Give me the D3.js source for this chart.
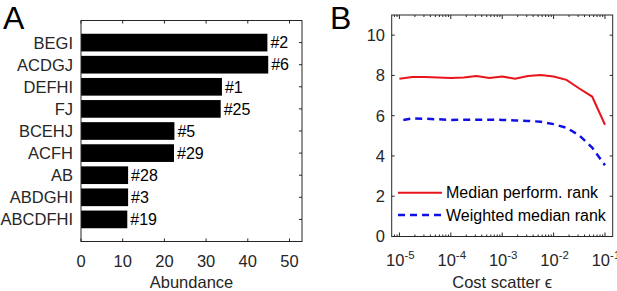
<!DOCTYPE html>
<html>
<head>
<meta charset="utf-8">
<script src="https://cdn.jsdelivr.net/npm/d3@7"></script>
<style>
  body { margin: 0; background: #fff; }
  text { font-family: Arial, "Liberation Sans", sans-serif; fill: #262626; }
</style>
</head>
<body>
<div id="chart"></div>
<script>
// panel A data
const groups = ["BEGI", "ACDGJ", "DEFHI", "FJ", "BCEHJ", "ACFH", "AB", "ABDGHI", "ABCDFHI"];
const abundance = [44.7, 44.9, 33.8, 33.5, 22.4, 22.3, 11.3, 11.3, 11.1];
const ranks = ["#2", "#6", "#1", "#25", "#5", "#29", "#28", "#3", "#19"];
const abundanceTicks = [0, 10, 20, 30, 40, 50];

// panel B data
const scatter = [1e-5, 1.78e-5, 3.16e-5, 5.62e-5, 1e-4, 1.78e-4, 3.16e-4, 5.62e-4,
    1e-3, 1.78e-3, 3.16e-3, 5.62e-3, 1e-2, 1.78e-2, 3.16e-2, 5.62e-2, 1e-1];
const medianRank = [7.83, 7.92, 7.92, 7.90, 7.87, 7.90, 7.97, 7.87, 7.95,
    7.83, 7.97, 8.02, 7.95, 7.78, 7.35, 6.95, 5.55];
const weightedRank = [5.75, 5.86, 5.85, 5.82, 5.79, 5.80, 5.80, 5.80, 5.79,
    5.76, 5.74, 5.70, 5.58, 5.40, 5.02, 4.42, 3.54];
const rankTicks = [0, 2, 4, 6, 8, 10];
const scatterTicks = [1e-5, 1e-4, 1e-3, 1e-2, 1e-1];
const legendNames = ["Median perform. rank", "Weighted median rank"];

const axisColor = "#262626";
const tickLen = 3;

const svg = d3.select("#chart").append("svg")
    .attr("width", 617)
    .attr("height", 291);

// ---------- panel A ----------
const boxA = {left: 81, right: 302, top: 20.5, bottom: 241.5};

const xA = d3.scaleLinear()
    .domain([0, 53])
    .range([boxA.left, boxA.right]);

const yA = d3.scaleLinear()
    .domain([0, 10])
    .range([boxA.bottom, boxA.top]);

const gA = svg.append("g");

// bars (first group at the top)
const barH = yA(0) - yA(0.8);
gA.selectAll(".bar")
    .data(groups)
    .enter().append("rect")
    .attr("class", "bar")
    .attr("x", xA(0))
    .attr("y", (d, i) => yA(9 - i) - barH / 2)
    .attr("width", (d, i) => xA(abundance[i]) - xA(0))
    .attr("height", barH)
    .attr("fill", "#000");

gA.selectAll(".rank")
    .data(ranks)
    .enter().append("text")
    .attr("class", "rank")
    .attr("x", (d, i) => xA(abundance[i]) + 3)
    .attr("y", (d, i) => yA(9 - i))
    .attr("dy", "0.36em")
    .attr("font-size", 16)
    .style("fill", "#000")
    .text(d => d);

// box
gA.append("rect")
    .attr("x", boxA.left).attr("y", boxA.top)
    .attr("width", boxA.right - boxA.left)
    .attr("height", boxA.bottom - boxA.top)
    .attr("fill", "none")
    .attr("stroke", axisColor)
    .attr("stroke-width", 1);

// x ticks, bottom and top, pointing in
abundanceTicks.forEach(function (t) {
    gA.append("line")
        .attr("x1", xA(t)).attr("x2", xA(t))
        .attr("y1", boxA.bottom).attr("y2", boxA.bottom - tickLen)
        .attr("stroke", axisColor);
    gA.append("line")
        .attr("x1", xA(t)).attr("x2", xA(t))
        .attr("y1", boxA.top).attr("y2", boxA.top + tickLen)
        .attr("stroke", axisColor);
    gA.append("text")
        .attr("x", xA(t))
        .attr("y", 267)
        .attr("text-anchor", "middle")
        .attr("font-size", 16.5)
        .text(t);
});

// y ticks on the right side and group labels
groups.forEach(function (g, i) {
    gA.append("line")
        .attr("x1", boxA.right).attr("x2", boxA.right - tickLen)
        .attr("y1", yA(9 - i)).attr("y2", yA(9 - i))
        .attr("stroke", axisColor);
    gA.append("text")
        .attr("x", 73)
        .attr("y", yA(9 - i))
        .attr("dy", "0.36em")
        .attr("text-anchor", "end")
        .attr("font-size", 16.5)
        .text(g);
});

gA.append("text")
    .attr("x", (boxA.left + boxA.right) / 2)
    .attr("y", 288)
    .attr("text-anchor", "middle")
    .attr("font-size", 16.5)
    .text("Abundance");

svg.append("text")
    .attr("x", 3)
    .attr("y", 29)
    .attr("font-size", 32)
    .style("fill", "#000")
    .text("A");

// ---------- panel B ----------
const boxB = {left: 391.7, right: 612.7, top: 15, bottom: 236.5};

const xB = d3.scaleLog()
    .domain([Math.pow(10, -5.15), Math.pow(10, -0.85)])
    .range([boxB.left, boxB.right]);

const yB = d3.scaleLinear()
    .domain([0, 11])
    .range([boxB.bottom, boxB.top]);

const gB = svg.append("g");

const line = d3.line()
    .x((d, i) => xB(scatter[i]))
    .y(d => yB(d));

gB.append("path")
    .datum(medianRank)
    .attr("d", line)
    .attr("fill", "none")
    .attr("stroke", "#e8141b")
    .attr("stroke-width", 2);

gB.append("path")
    .datum(weightedRank)
    .attr("d", line)
    .attr("fill", "none")
    .attr("stroke", "#1010e6")
    .attr("stroke-width", 2.5)
    .attr("stroke-dasharray", "7,5")
    .attr("stroke-dashoffset", 8);

gB.append("rect")
    .attr("x", boxB.left).attr("y", boxB.top)
    .attr("width", boxB.right - boxB.left)
    .attr("height", boxB.bottom - boxB.top)
    .attr("fill", "none")
    .attr("stroke", axisColor)
    .attr("stroke-width", 1);

// y ticks
rankTicks.forEach(function (t) {
    gB.append("line")
        .attr("x1", boxB.left).attr("x2", boxB.left + tickLen)
        .attr("y1", yB(t)).attr("y2", yB(t))
        .attr("stroke", axisColor);
    gB.append("line")
        .attr("x1", boxB.right).attr("x2", boxB.right - tickLen)
        .attr("y1", yB(t)).attr("y2", yB(t))
        .attr("stroke", axisColor);
    gB.append("text")
        .attr("x", 385)
        .attr("y", yB(t))
        .attr("dy", "0.36em")
        .attr("text-anchor", "end")
        .attr("font-size", 16.5)
        .text(t);
});

// x ticks, major and minor (log)
const [d0, d1] = xB.domain();
xB.ticks().filter(t => t >= d0 && t <= d1).forEach(function (t) {
    const major = scatterTicks.some(m => Math.abs(m - t) / m < 1e-6);
    const len = major ? tickLen + 1 : tickLen - 1;
    gB.append("line")
        .attr("x1", xB(t)).attr("x2", xB(t))
        .attr("y1", boxB.bottom).attr("y2", boxB.bottom - len)
        .attr("stroke", axisColor);
    gB.append("line")
        .attr("x1", xB(t)).attr("x2", xB(t))
        .attr("y1", boxB.top).attr("y2", boxB.top + len)
        .attr("stroke", axisColor);
});

scatterTicks.forEach(function (t) {
    const label = gB.append("text")
        .attr("x", xB(t) + 1)
        .attr("y", 266)
        .attr("text-anchor", "middle")
        .attr("font-size", 16.5);
    label.append("tspan").text("10");
    label.append("tspan")
        .attr("dy", -7)
        .attr("font-size", 11.5)
        .text(Math.round(Math.log10(t)));
});

const xTitle = gB.append("text")
    .attr("x", (boxB.left + boxB.right) / 2)
    .attr("y", 288)
    .attr("text-anchor", "middle")
    .attr("font-size", 16.5);
xTitle.append("tspan").text("Cost scatter ");
xTitle.append("tspan").text("\u03f5");

// legend
const legend = gB.append("g");
[["#e8141b", null, 2], ["#1010e6", "7,5", 2.5]].forEach(function (s, i) {
    const ly = 192.7 + i * 22.3;
    legend.append("line")
        .attr("x1", 398).attr("x2", 442)
        .attr("y1", ly).attr("y2", ly)
        .attr("stroke", s[0])
        .attr("stroke-width", s[2])
        .attr("stroke-dasharray", s[1]);
    legend.append("text")
        .attr("x", 446)
        .attr("y", ly)
        .attr("dy", "0.36em")
        .attr("font-size", 16)
        .style("fill", "#000")
        .text(legendNames[i]);
});

svg.append("text")
    .attr("x", 330)
    .attr("y", 29)
    .attr("font-size", 32)
    .style("fill", "#000")
    .text("B");
</script>
</body>
</html>
